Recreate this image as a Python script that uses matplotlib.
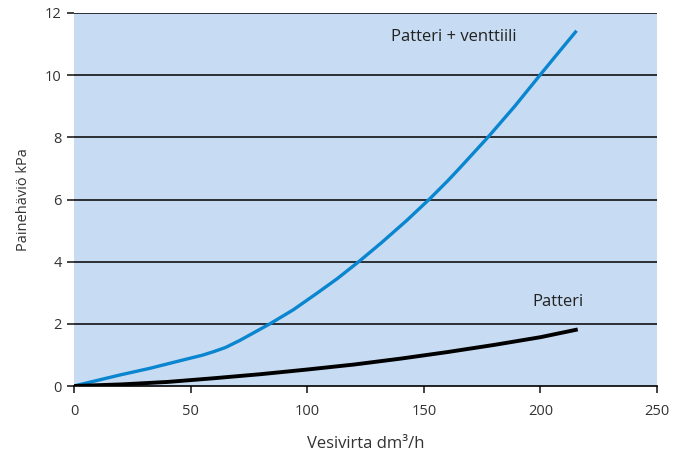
import matplotlib
matplotlib.use("Agg")
import matplotlib.pyplot as plt
import numpy as np

plt.rcParams['font.family'] = ['Open Sans', 'DejaVu Sans']

flow_valve = [0, 10, 20, 32.6, 46.9, 55, 59.7, 65, 71.2, 77, 84.0, 94, 104.1, 113, 122.6, 132, 142.6, 152.8, 160.5, 165.5, 171, 177.7, 189, 199.8, 208, 215.5]
dp_valve = [0, 0.18, 0.36, 0.57, 0.84, 0.99, 1.10, 1.24, 1.47, 1.71, 2.0, 2.45, 2.98, 3.46, 4.03, 4.62, 5.32, 6.04, 6.62, 7.02, 7.47, 8.02, 9.0, 10.0, 10.75, 11.43]

flow_rad = [0, 20, 40, 50, 60, 80, 100, 120, 140, 160, 180, 200, 216]
dp_rad = [0, 0.05, 0.13, 0.19, 0.25, 0.38, 0.53, 0.69, 0.88, 1.09, 1.32, 1.57, 1.82]

xticks = [0, 50, 100, 150, 200, 250]
yticks = [0, 2, 4, 6, 8, 10, 12]

fig = plt.figure(figsize=(6.83, 4.53), dpi=100)
ax = fig.add_axes([74/683, 1-386/453, (657-74)/683, (386-13)/453])
ax.set_facecolor('#c7dcf2')
ax.set_xlim(0, 250)
ax.set_ylim(0, 12)
for s in ['top', 'right', 'left']:
    ax.spines[s].set_visible(False)
ax.spines['bottom'].set_linewidth(1.2)
ax.set_xticks(xticks)
ax.set_yticks(yticks)
ax.tick_params(axis='both', labelsize=10.5, colors='#222222', length=5, width=1.2, labelcolor='#333333')
ax.tick_params(axis='y', pad=4)
ax.tick_params(axis='x', pad=8)
for y in yticks[1:]:
    ax.axhline(y, color='#111111', lw=1.2, zorder=1)

ax.plot(flow_valve, dp_valve, color='#0a85cf', lw=2.4, zorder=3, solid_capstyle='butt', solid_joinstyle='round')
ax.plot(flow_rad, dp_rad, color='#000000', lw=2.8, zorder=3, solid_capstyle='butt', solid_joinstyle='round')

ax.text(163, 11.23, 'Patteri + venttiili', fontsize=12, color='#222222', va='center', ha='center')
ax.text(207.5, 2.71, 'Patteri', fontsize=12, color='#222222', va='center', ha='center')

ax.set_xlabel('Vesivirta dm³/h', fontsize=12, color='#333333', labelpad=12)
ax.set_ylabel('Painehäviö kPa', fontsize=10.5, color='#333333', labelpad=10)

fig.savefig('out.png', dpi=100)
